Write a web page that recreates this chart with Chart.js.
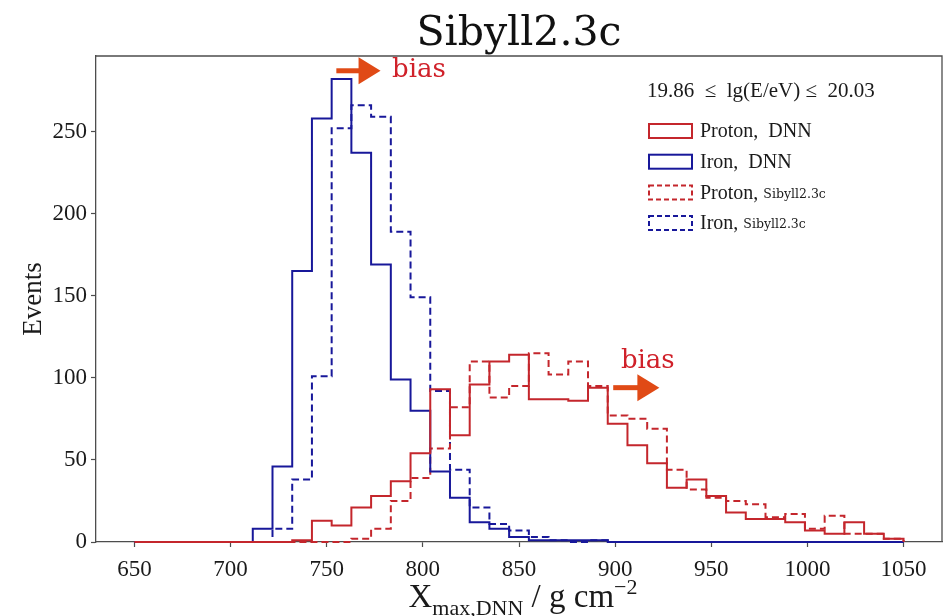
<!DOCTYPE html>
<html>
<head>
<meta charset="utf-8">
<title>Xmax DNN - Sibyll2.3c</title>
<script src="https://cdn.jsdelivr.net/npm/chart.js@4.4.0/dist/chart.umd.min.js"></script>
<style>
  html, body { margin: 0; padding: 0; background: #fff; }
  #wrap { width: 952px; height: 616px; }
</style>
</head>
<body>
<div id="wrap"><canvas id="xmaxChart" width="952" height="616"></canvas></div>
<script>
// histogram binning: 39 bins between 650 and 1050 g/cm^2
var binLow = 650;
var binHigh = 1050;
var nBins = 39;

var xTicks = [650, 700, 750, 800, 850, 900, 950, 1000, 1050];
var yTicks = [0, 50, 100, 150, 200, 250];

// counts per bin
var protonDNN = [0, 0, 0, 0, 0, 0, 0, 0, 1, 13, 10, 21, 28, 37, 54, 93, 65, 96, 110, 114,
                 87, 87, 86, 94, 72, 59, 48, 33, 38, 28, 18, 14, 14, 12, 7, 5, 12, 5, 2];
var ironDNN = [0, 0, 0, 0, 0, 0, 8, 46, 165, 258, 282, 237, 169, 99, 80, 43, 27, 12, 8, 3,
               1, 1, 1, 1, 0, 0, 0, 0, 0, 0, 0, 0, 0, 0, 0, 0, 0, 0, 0];
var protonSibyll = [0, 0, 0, 0, 0, 0, 0, 0, 0, 0, 0, 2, 8, 25, 39, 57, 82, 110, 88, 95,
                    115, 102, 110, 95, 77, 75, 69, 44, 32, 27, 25, 23, 15, 17, 8, 16, 5, 5, 2];
var ironSibyll = [0, 0, 0, 0, 0, 0, 0, 8, 38, 101, 252, 266, 259, 189, 149, 92, 44, 21, 11, 7,
                  3, 1, 0, 1, 0, 0, 0, 0, 0, 0, 0, 0, 0, 0, 0, 0, 0, 0, 0];

var RED = '#c4262c';
var BLUE = '#18189a';
var SERIF = "'Liberation Serif', 'DejaVu Serif', serif";
var SLAB = "'DejaVu Serif', serif";

var edges = [];
for (var i = 0; i <= nBins; i++) {
    edges.push(binLow + i * (binHigh - binLow) / nBins);
}

// outline of a step histogram, like histtype='step'
function stepPoints(counts) {
    var pts = [{x: binLow, y: 0}];
    for (var i = 0; i < counts.length; i++) {
        pts.push({x: edges[i], y: counts[i]});
    }
    pts.push({x: binHigh, y: counts[counts.length - 1]});
    pts.push({x: binHigh, y: 0});
    return pts;
}

function histSet(label, counts, color, dashed) {
    return {
        label: label,
        data: stepPoints(counts),
        borderColor: color,
        backgroundColor: color,
        borderWidth: 2,
        borderDash: dashed ? [7, 4] : [],
        stepped: 'before',
        pointRadius: 0,
        fill: false,
        clip: 3
    };
}

var legendRows = [
    {main: 'Proton,  ', tag: 'DNN', tagSerif: true, color: RED, dashed: false},
    {main: 'Iron,  ', tag: 'DNN', tagSerif: true, color: BLUE, dashed: false},
    {main: 'Proton, ', tag: 'Sibyll2.3c', tagSerif: false, color: RED, dashed: true},
    {main: 'Iron, ', tag: 'Sibyll2.3c', tagSerif: false, color: BLUE, dashed: true}
];

var biasMarks = [
    {x0: 755, x1: 778, y: 287, textX: 784, textY: 283},
    {x0: 899, x1: 923, y: 94, textX: 903, textY: 106}
];

var extras = {
    id: 'extras',
    afterDraw: function(chart) {
        var ctx = chart.ctx;
        var a = chart.chartArea;
        var xs = chart.scales.x, ys = chart.scales.y;
        ctx.save();

        // top and right frame
        ctx.strokeStyle = '#4d4d4d';
        ctx.lineWidth = 1.3;
        ctx.beginPath();
        ctx.moveTo(a.left, a.top);
        ctx.lineTo(a.right, a.top);
        ctx.lineTo(a.right, a.bottom);
        ctx.stroke();

        // title
        ctx.fillStyle = '#111';
        ctx.font = '41px ' + SLAB;
        ctx.textAlign = 'center';
        ctx.textBaseline = 'alphabetic';
        ctx.fillText('Sibyll2.3c', (a.left + a.right) / 2, 45);

        // x axis title with sub/superscript
        var big = '33px ' + SERIF, small = '22px ' + SERIF;
        var parts = [
            {t: 'X', f: big, dy: 0},
            {t: 'max,DNN', f: small, dy: 8},
            {t: ' / g cm', f: big, dy: 0},
            {t: '\u22122', f: small, dy: -13}
        ];
        var total = 0;
        parts.forEach(function(p) { ctx.font = p.f; p.w = ctx.measureText(p.t).width; total += p.w; });
        var px = (a.left + a.right) / 2 - total / 2 + 4;
        ctx.textAlign = 'left';
        ctx.fillStyle = '#1a1a1a';
        parts.forEach(function(p) {
            ctx.font = p.f;
            ctx.fillText(p.t, px, 607 + p.dy);
            px += p.w;
        });

        // legend
        ctx.textBaseline = 'middle';
        ctx.font = '21px ' + SERIF;
        ctx.fillText('19.86  \u2264  lg(E/eV) \u2264  20.03', 647, 91);
        legendRows.forEach(function(r, k) {
            var cy = 131 + k * 30.7;
            ctx.strokeStyle = r.color;
            ctx.lineWidth = 2;
            ctx.setLineDash(r.dashed ? [5, 3] : []);
            ctx.strokeRect(649, cy - 7, 43, 14);
            ctx.setLineDash([]);
            ctx.fillStyle = '#1a1a1a';
            ctx.font = '20px ' + SERIF;
            ctx.fillText(r.main, 700, cy + 1);
            var w = ctx.measureText(r.main).width;
            ctx.font = r.tagSerif ? '20px ' + SERIF : '12.5px ' + SLAB;
            ctx.fillText(r.tag, 700 + w, cy + (r.tagSerif ? 1 : 2));
        });

        // "bias" arrows
        biasMarks.forEach(function(b) {
            var x0 = xs.getPixelForValue(b.x0), x1 = xs.getPixelForValue(b.x1);
            var y = ys.getPixelForValue(b.y);
            ctx.fillStyle = '#e04a16';
            ctx.fillRect(x0, y - 2.5, x1 - x0 - 20, 5);
            ctx.beginPath();
            ctx.moveTo(x1 - 22, y - 13.5);
            ctx.lineTo(x1, y);
            ctx.lineTo(x1 - 22, y + 13.5);
            ctx.closePath();
            ctx.fill();
            ctx.fillStyle = '#d0212a';
            ctx.font = '26px ' + SLAB;
            ctx.textBaseline = 'alphabetic';
            ctx.fillText('bias', xs.getPixelForValue(b.textX), ys.getPixelForValue(b.textY));
            ctx.textBaseline = 'middle';
        });

        ctx.restore();
    }
};

var chart = new Chart(document.getElementById('xmaxChart').getContext('2d'), {
    type: 'line',
    data: {
        datasets: [
            histSet('Proton, DNN', protonDNN, RED, false),
            histSet('Iron, DNN', ironDNN, BLUE, false),
            histSet('Proton, Sibyll2.3c', protonSibyll, RED, true),
            histSet('Iron, Sibyll2.3c', ironSibyll, BLUE, true)
        ]
    },
    options: {
        responsive: false,
        animation: false,
        devicePixelRatio: 1,
        layout: { padding: { top: 56, right: 10, left: 0, bottom: 0 } },
        plugins: {
            legend: { display: false },
            tooltip: { enabled: false }
        },
        scales: {
            x: {
                type: 'linear',
                min: 630,
                max: 1070,
                afterBuildTicks: function(s) { s.ticks = xTicks.map(function(v) { return {value: v}; }); },
                afterFit: function(s) { s.height = 74; },
                ticks: {
                    font: { family: SERIF, size: 23 }, color: '#1a1a1a', padding: 9, maxRotation: 0,
                    callback: function(v) { return String(v); }
                },
                grid: { drawOnChartArea: false, drawTicks: true, tickLength: 5, color: '#4d4d4d', tickWidth: 1.2 },
                border: { display: true, color: '#4d4d4d', width: 1.3 }
            },
            y: {
                type: 'linear',
                min: 0,
                max: 296,
                afterBuildTicks: function(s) { s.ticks = yTicks.map(function(v) { return {value: v}; }); },
                afterFit: function(s) { s.width = 96; },
                ticks: {
                    font: { family: SERIF, size: 23 }, color: '#1a1a1a', padding: 4,
                    callback: function(v) { return String(v); }
                },
                grid: { drawOnChartArea: false, drawTicks: true, tickLength: 5, color: '#4d4d4d', tickWidth: 1.2 },
                border: { display: true, color: '#4d4d4d', width: 1.3 },
                title: { display: true, text: 'Events', font: { family: SERIF, size: 27 }, color: '#1a1a1a', padding: { top: 18, bottom: 0 } }
            }
        }
    },
    plugins: [extras]
});
</script>
</body>
</html>
